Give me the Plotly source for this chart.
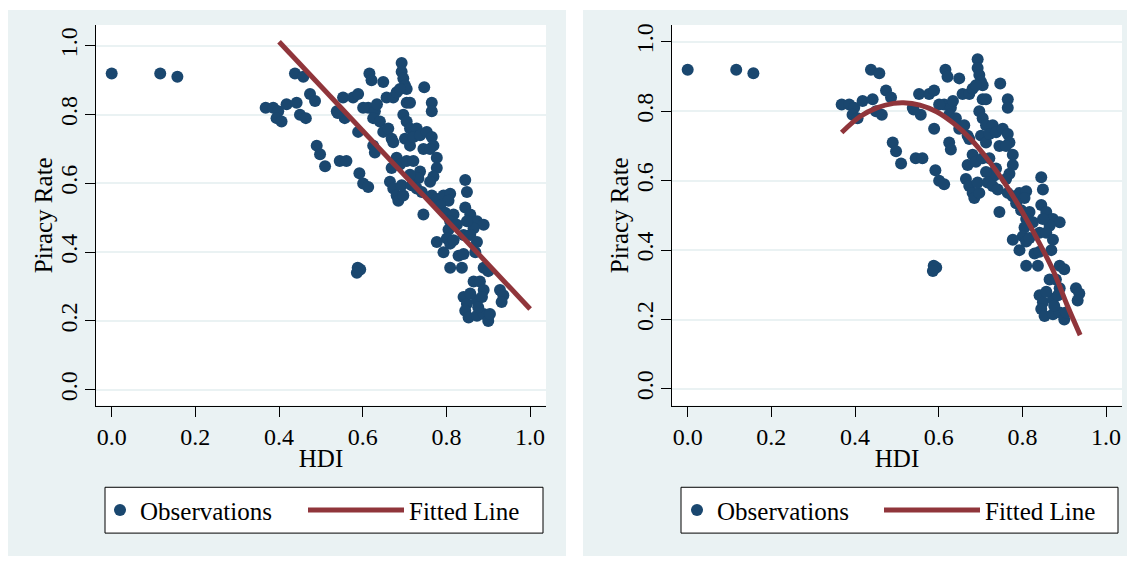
import plotly.graph_objects as go

# Observations (HDI, piracy rate)
hdi = [0.000, 0.116, 0.157, 0.438, 0.458, 0.368, 0.386, 0.398, 0.394, 0.406,
       0.418, 0.442, 0.450, 0.464, 0.474, 0.486, 0.490, 0.498, 0.510, 0.538,
       0.557, 0.553, 0.577, 0.589, 0.545, 0.561, 0.589, 0.592, 0.601, 0.613,
       0.588, 0.594, 0.586, 0.616, 0.621, 0.649, 0.613, 0.629, 0.634, 0.625,
       0.641, 0.649, 0.661, 0.625, 0.629, 0.669, 0.673, 0.657, 0.673, 0.681,
       0.693, 0.693, 0.697, 0.701, 0.705, 0.689, 0.705, 0.713, 0.697, 0.705,
       0.713, 0.729, 0.747, 0.765, 0.765, 0.701, 0.713, 0.721, 0.737, 0.753,
       0.765, 0.769, 0.745, 0.761, 0.777, 0.777, 0.769, 0.761, 0.681, 0.669,
       0.689, 0.705, 0.721, 0.737, 0.733, 0.713, 0.665, 0.673, 0.681, 0.685,
       0.697, 0.693, 0.717, 0.729, 0.741, 0.745, 0.765, 0.777, 0.793, 0.809,
       0.805, 0.785, 0.797, 0.817, 0.809, 0.825, 0.845, 0.849, 0.845, 0.857,
       0.873, 0.889, 0.865, 0.849, 0.841, 0.857, 0.873, 0.805, 0.801, 0.777,
       0.793, 0.809, 0.817, 0.809, 0.829, 0.841, 0.837, 0.869, 0.889, 0.900,
       0.865, 0.880, 0.889, 0.928, 0.936, 0.932, 0.841, 0.849, 0.873, 0.885,
       0.845, 0.853, 0.873, 0.889, 0.900, 0.904, 0.876, 0.857, 0.601, 0.540]
piracy = [0.920, 0.920, 0.910, 0.920, 0.910, 0.820, 0.820, 0.810, 0.790, 0.780,
          0.830, 0.835, 0.800, 0.790, 0.860, 0.840, 0.710, 0.685, 0.650, 0.810,
          0.790, 0.850, 0.850, 0.860, 0.665, 0.665, 0.750, 0.630, 0.600, 0.590,
          0.355, 0.350, 0.340, 0.920, 0.900, 0.895, 0.820, 0.810, 0.830, 0.790,
          0.780, 0.750, 0.760, 0.710, 0.690, 0.730, 0.720, 0.850, 0.850, 0.865,
          0.950, 0.925, 0.905, 0.885, 0.875, 0.875, 0.835, 0.835, 0.800, 0.780,
          0.760, 0.760, 0.880, 0.835, 0.810, 0.730, 0.710, 0.735, 0.740, 0.750,
          0.735, 0.710, 0.700, 0.700, 0.675, 0.645, 0.620, 0.605, 0.675, 0.645,
          0.655, 0.665, 0.665, 0.635, 0.615, 0.625, 0.605, 0.585, 0.565, 0.550,
          0.565, 0.595, 0.595, 0.585, 0.575, 0.510, 0.565, 0.555, 0.565, 0.570,
          0.550, 0.535, 0.515, 0.510, 0.490, 0.480, 0.610, 0.575, 0.530, 0.510,
          0.490, 0.480, 0.470, 0.490, 0.450, 0.450, 0.430, 0.465, 0.440, 0.430,
          0.400, 0.425, 0.435, 0.355, 0.390, 0.395, 0.355, 0.400, 0.355, 0.345,
          0.315, 0.315, 0.290, 0.290, 0.275, 0.255, 0.270, 0.250, 0.260, 0.270,
          0.230, 0.210, 0.215, 0.220, 0.200, 0.220, 0.240, 0.280, 0.820, 0.805]

# Fitted lines
lin_x = [0.40, 1.00]
lin_y = [1.012, 0.235]
quad_x = [0.368, 0.412, 0.452, 0.492, 0.516, 0.555, 0.595, 0.635, 0.675,
          0.715, 0.755, 0.794, 0.834, 0.874, 0.906, 0.938]
quad_y = [0.739, 0.785, 0.810, 0.823, 0.825, 0.818, 0.799, 0.766, 0.722,
          0.665, 0.598, 0.522, 0.435, 0.340, 0.244, 0.155]

tick_vals = [0.0, 0.2, 0.4, 0.6, 0.8, 1.0]
tick_text = ["0.0", "0.2", "0.4", "0.6", "0.8", "1.0"]
x_title = "HDI"
y_title = "Piracy Rate"

# The page body adds an 8 px offset; lay the figure out in window pixels
OFF = 8
W, H = 1135 - OFF, 561 - OFF
NAVY = "#1a476f"
MAROON = "#90353b"
BG = "#eaf2f3"
FONT = "Liberation Serif"
FS_TICK = 24
FS_TEXT = 25


def px(x):
    return (x - OFF) / W


def py(y):
    return 1 - (y - OFF) / H


fig = go.Figure()

panels = [
    dict(fx=lin_x, fy=lin_y, xa="x", ya="y", legs=("legend", "legend3")),
    dict(fx=quad_x, fy=quad_y, xa="x2", ya="y2", legs=("legend2", "legend4")),
]
for p in panels:
    fig.add_trace(go.Scatter(
        x=hdi, y=piracy, mode="markers", name="Observations",
        marker=dict(color=NAVY, size=12, line=dict(width=0)),
        xaxis=p["xa"], yaxis=p["ya"], legend=p["legs"][0], showlegend=True))
    fig.add_trace(go.Scatter(
        x=p["fx"], y=p["fy"], mode="lines", name="Fitted Line",
        line=dict(color=MAROON, width=5, shape="spline"),
        xaxis=p["xa"], yaxis=p["ya"], legend=p["legs"][1], showlegend=True))

shapes = [
    dict(type="rect", xref="paper", yref="paper", x0=px(8), x1=px(566),
         y0=py(556), y1=py(8), fillcolor=BG, line=dict(width=0), layer="below"),
    dict(type="rect", xref="paper", yref="paper", x0=px(583), x1=px(1135),
         y0=py(556), y1=py(8), fillcolor=BG, line=dict(width=0), layer="below"),
    dict(type="rect", xref="paper", yref="paper", x0=px(96), x1=px(546),
         y0=py(405), y1=py(23), fillcolor="white", line=dict(width=0), layer="below"),
    dict(type="rect", xref="paper", yref="paper", x0=px(672), x1=px(1122),
         y0=py(405), y1=py(23), fillcolor="white", line=dict(width=0), layer="below"),
    dict(type="rect", xref="paper", yref="paper", x0=px(105), x1=px(543),
         y0=py(533), y1=py(487), fillcolor="white", line=dict(color="black", width=1), layer="below"),
    dict(type="rect", xref="paper", yref="paper", x0=px(681), x1=px(1118),
         y0=py(533), y1=py(487), fillcolor="white", line=dict(color="black", width=1), layer="below"),
]

annotations = [
    dict(text=y_title, xref="paper", yref="paper", x=px(xc), y=py(214),
         xanchor="center", yanchor="middle", textangle=-90, showarrow=False,
         font=dict(family=FONT, size=FS_TEXT, color="black"))
    for xc in (43, 619)
]

axis_common = dict(
    tickmode="array", tickvals=tick_vals, ticktext=tick_text,
    ticks="outside", ticklen=10, tickcolor="black", tickwidth=1,
    showline=True, linecolor="black", linewidth=1,
    tickfont=dict(family=FONT, size=FS_TICK, color="black"),
    zeroline=False,
)


def xaxis(dom, anchor):
    return dict(domain=dom, range=[-0.0375, 1.038], showgrid=False, anchor=anchor,
                title=dict(text=x_title, font=dict(family=FONT, size=FS_TEXT), standoff=0),
                **axis_common)


def yaxis(dom, rng, anchor):
    return dict(domain=dom, range=rng, showgrid=True, gridcolor=BG, gridwidth=1.5,
                tickangle=-90, anchor=anchor, ticklabelstandoff=-2, **axis_common)


def legend(x, itemwidth):
    return dict(orientation="h", x=px(x), y=py(510), xanchor="left", yanchor="middle",
                bgcolor="rgba(0,0,0,0)", borderwidth=0, itemwidth=itemwidth,
                font=dict(family=FONT, size=FS_TEXT, color="black"))


fig.update_layout(
    width=W, height=H,
    margin=dict(l=0, r=0, t=0, b=0),
    paper_bgcolor="white", plot_bgcolor="rgba(0,0,0,0)",
    font=dict(family=FONT, color="black"),
    showlegend=True,
    shapes=shapes,
    annotations=annotations,
    xaxis=xaxis([px(96), px(546)], "y"),
    yaxis=yaxis([py(405), py(23)], [-0.046, 1.061], "x"),
    xaxis2=xaxis([px(672), px(1122)], "y2"),
    yaxis2=yaxis([py(405), py(23)], [-0.048, 1.049], "x2"),
    legend=legend(100, 30),
    legend2=legend(677, 30),
    legend3=legend(303, 96),
    legend4=legend(879, 96),
)

fig.write_html("out.html")
